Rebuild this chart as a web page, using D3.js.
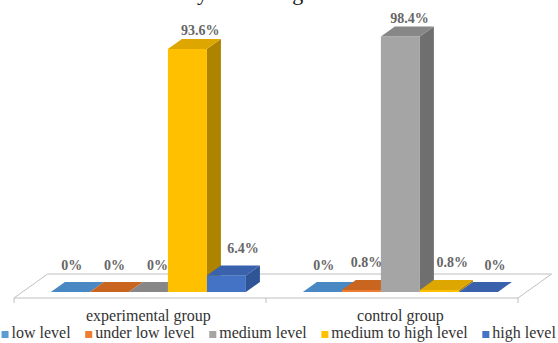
<!DOCTYPE html>
<html>
<head>
<meta charset="utf-8">
<script src="https://cdn.jsdelivr.net/npm/d3@7/dist/d3.min.js"></script>
<style>
  html, body { margin: 0; padding: 0; background: #fff; }
  svg { display: block; }
</style>
</head>
<body>
<svg id="chart" width="558" height="343"></svg>
<script>
// ---- data ----
const groups = ["experimental group", "control group"];
const series = ["low level", "under low level", "medium level", "medium to high level", "high level"];
const experimentalValues = [0, 0, 0, 93.6, 6.4];
const controlValues = [0, 0.8, 98.4, 0.8, 0];
const captionFragment = "Study of reading";

// ---- styles ----
const frontColors = ["#5B9BD5", "#ED7D31", "#A5A5A5", "#FFC000", "#4472C4"];
const topColors   = ["#4A88C4", "#C9651F", "#878787", "#DDA600", "#3A62AC"];
const sideColors  = ["#41719C", "#AE5A21", "#6F6F6F", "#AD8300", "#2F5597"];
const FONT = "Liberation Serif";

const W = 558, H = 343;
const svg = d3.select("#chart");

// oblique 3D projection: one depth unit moves (kx, -1) on screen
const kx = 1.4;
const floorFront = 298, floorDepth = 24;
const barZ0 = 6, barDZ = 10;
const baseY = floorFront - barZ0;

const x = d3.scaleBand().domain(groups).range([14, 518]).paddingInner(0).paddingOuter(0);
const xi = d3.scaleBand().domain(series).range([0, x.bandwidth()]).paddingInner(0).paddingOuter(0.73);
const h = d3.scaleLinear().domain([0, 100]).range([0, 259.6]);

const data = [];
groups.forEach((g, gi) => {
  const vals = gi === 0 ? experimentalValues : controlValues;
  series.forEach((s, si) => data.push({ g, s, si, v: vals[si] }));
});

// caption fragment (cut off at the top, as in the source image)
svg.append("text")
  .attr("x", 230).attr("y", 0)
  .attr("text-anchor", "middle")
  .attr("font-family", FONT).attr("font-size", 22).attr("fill", "#111")
  .text(captionFragment);

// floor
const [r0, r1] = x.range();
const dxF = kx * floorDepth;
svg.append("path")
  .attr("d", d3.line()([[r0, floorFront], [r1, floorFront], [r1 + dxF, floorFront - floorDepth], [r0 + dxF, floorFront - floorDepth]]) + "Z")
  .attr("fill", "#fff").attr("stroke", "#BFBFBF").attr("stroke-width", 1);

// tick marks at group boundaries
const tickXs = groups.map(g => x(g)).concat([r1]);
svg.selectAll(".tick").data(tickXs).join("line")
  .attr("x1", d => d).attr("x2", d => d)
  .attr("y1", floorFront).attr("y2", floorFront + 5)
  .attr("stroke", "#BFBFBF");

// bars (left to right for correct occlusion)
const ddx = kx * barDZ, ddy = -barDZ;
const bars = svg.append("g");
data.forEach(d => {
  const x0 = x(d.g) + xi(d.s) + kx * barZ0;
  const x1 = x0 + xi.bandwidth();
  const yt = baseY - h(d.v);
  const g = bars.append("g");
  g.append("path")
    .attr("d", d3.line()([[x1, yt], [x1 + ddx, yt + ddy], [x1 + ddx, baseY + ddy], [x1, baseY]]) + "Z")
    .attr("fill", sideColors[d.si]);
  g.append("rect")
    .attr("x", x0).attr("y", yt).attr("width", x1 - x0).attr("height", baseY - yt)
    .attr("fill", frontColors[d.si]);
  g.append("path")
    .attr("d", d3.line()([[x0, yt], [x1, yt], [x1 + ddx, yt + ddy], [x0 + ddx, yt + ddy]]) + "Z")
    .attr("fill", topColors[d.si]);
  d.cx = (x0 + x1) / 2;
  d.yt = yt;
});

// data labels
svg.append("g").selectAll("text").data(data).join("text")
  .attr("x", d => d.cx + 9 + 3.85 * (d.si - 2))
  .attr("y", d => d.yt + ddy - 12.5 + 0.09 * d.v)
  .attr("text-anchor", "middle")
  .attr("font-family", FONT).attr("font-size", 14).attr("font-weight", "bold")
  .attr("fill", "#666666")
  .text(d => `${d.v}%`);

// category labels
svg.append("g").selectAll("text").data(groups).join("text")
  .attr("x", g => x(g) + x.bandwidth() / 2 + kx * barZ0)
  .attr("y", 321)
  .attr("text-anchor", "middle")
  .attr("font-family", FONT).attr("font-size", 16).attr("fill", "#333")
  .text(g => g);

// legend
const legend = svg.append("g");
const items = legend.selectAll("g").data(series).join("g");
items.append("rect").attr("width", 7).attr("height", 7).attr("y", -7)
  .attr("fill", (d, i) => frontColors[i]);
items.append("text").attr("x", 10).attr("y", 0)
  .attr("font-family", FONT).attr("font-size", 16).attr("fill", "#333")
  .text(d => d);
const gap = 14;
let widths = [];
items.each(function () { widths.push(this.getBBox().width); });
const total = d3.sum(widths) + gap * (widths.length - 1);
let cur = (W - total) / 2;
items.attr("transform", (d, i) => { const t = `translate(${cur},338)`; cur += widths[i] + gap; return t; });
</script>
</body>
</html>
